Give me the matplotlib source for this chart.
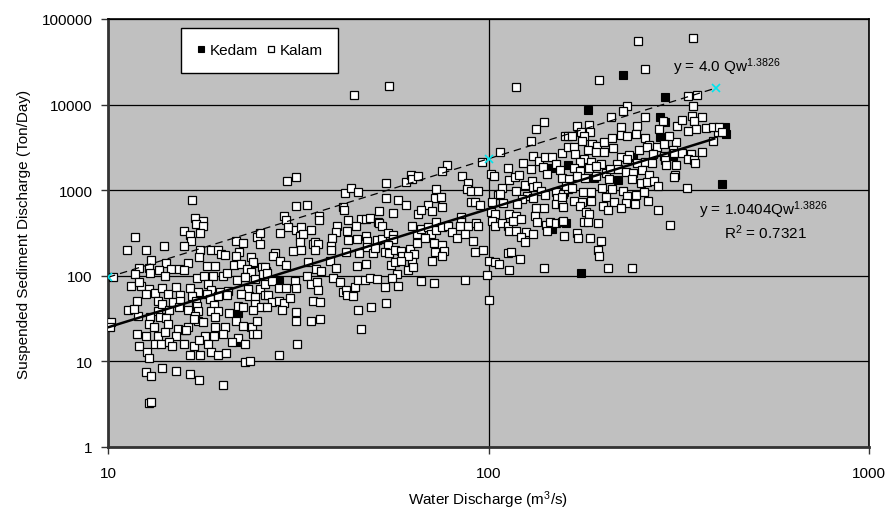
import matplotlib
matplotlib.use("Agg")
import matplotlib.pyplot as plt
from matplotlib.ticker import FixedLocator, NullLocator

plt.rcParams['font.family'] = ['Liberation Sans', 'DejaVu Sans']
plt.rcParams['mathtext.default'] = 'regular'

# Kalam station: water discharge (m3/s) and sediment discharge (ton/day)
kalam_qw = [
    16.6, 16.9, 17.8, 17.0, 17.8, 15.8, 16.4, 17.5, 11.8, 16.5,
    11.2, 12.6, 14.0, 15.8, 17.5, 18.7, 19.4, 19.8, 20.3, 21.7,
    22.6, 24.6, 25.1, 25.1, 22.1, 21.7, 23.7, 24.1, 13.0, 14.2,
    16.2, 17.3, 12.1, 12.8, 13.6, 14.6, 15.4, 15.8, 11.8, 12.9,
    14.1, 10.3, 17.1, 17.9, 18.2, 19.1, 18.9, 20.0, 20.5, 21.5,
    22.3, 23.2, 23.7, 25.4, 26.0, 21.8, 22.9, 24.3, 23.3, 25.1,
    25.8, 11.5, 12.2, 12.8, 13.3, 13.9, 15.1, 16.4, 17.2, 18.3,
    18.7, 19.7, 20.7, 12.6, 14.4, 15.5, 16.6, 18.2, 18.5, 19.4,
    20.5, 22.3, 23.5, 24.4, 25.8, 11.9, 13.5, 14.8, 15.5, 17.0,
    19.0, 22.0, 24.3, 25.2, 11.3, 12.0, 13.5, 13.9, 14.5, 15.4,
    16.2, 17.1, 17.2, 18.6, 19.4, 20.8, 22.6, 24.1, 10.2, 12.9,
    13.7, 14.2, 16.9, 17.2, 17.8, 19.1, 21.7, 22.7, 23.9, 24.6,
    12.8, 13.2, 14.4, 15.3, 15.9, 16.2, 16.8, 19.1, 20.3, 11.9,
    12.6, 13.5, 14.1, 15.1, 16.0, 18.0, 19.0, 20.1, 22.0, 24.1,
    24.7, 12.1, 12.7, 13.3, 13.8, 14.5, 14.7, 15.8, 16.8, 17.3,
    18.3, 21.2, 22.9, 12.8, 16.4, 17.4, 18.6, 19.5, 20.4, 22.9,
    23.6, 12.6, 13.0, 13.9, 15.1, 16.4, 17.3, 20.1, 12.8, 13.0,
    10.1, 11.7, 12.1,
    29.6, 31.2, 41.9, 43.4, 45.5, 53.9, 60.6, 62.4, 62.8, 65.1,
    53.9, 57.9, 60.6, 65.1, 56.2, 51.7, 31.2, 33.3, 41.4, 41.6,
    42.7, 46.1, 47.6, 48.7, 51.1, 51.4, 52.6, 29.0, 29.4, 35.8,
    35.8, 29.8, 31.2, 32.2, 34.1, 28.4, 31.9, 32.5, 39.9, 39.7,
    42.4, 44.8, 62.8, 64.7, 31.9, 34.5, 35.1, 35.7, 34.9, 38.7,
    38.5, 38.5, 42.7, 45.1, 47.6, 47.9, 50.8, 52.4, 54.3, 56.2,
    56.2, 54.3, 62.0, 64.7, 30.6, 32.2, 27.4, 27.1, 42.2, 45.8,
    47.9, 49.7, 50.2, 53.6, 54.6, 56.9, 58.9, 59.2, 63.9, 62.8,
    61.6, 28.4, 29.4, 33.5, 38.3, 39.7, 45.1, 47.6, 55.3, 56.9,
    58.9, 61.6, 63.5, 57.5, 25.8, 25.5, 26.2, 27.0, 28.1, 29.4,
    31.0, 31.2, 33.3, 35.3, 36.2, 34.1, 35.5, 35.7, 39.0, 40.6,
    41.4, 42.2, 44.5, 45.5, 47.3, 48.9, 50.8, 53.3, 55.6, 57.8,
    26.3, 27.0, 28.1, 29.0, 30.0, 26.1, 28.6, 31.2, 34.5, 36.0,
    42.4, 44.0, 53.9, 49.2, 45.3, 31.2, 34.1, 36.0, 31.4, 46.1,
    28.1, 44.2, 54.9,
    118.4, 140.3, 133.7, 129.7, 159.3, 161.3, 107.5, 96.3, 77.6, 75.7,
    85.2, 88.1, 87.6, 90.2, 94.1, 73.0, 72.5, 74.8, 69.2, 75.3,
    66.3, 71.2, 90.2, 91.9, 94.7, 101.8, 103.1, 112.2, 112.9, 117.7,
    120.6, 123.5, 129.7, 131.3, 136.1, 141.1, 147.2, 139.4, 142.9, 150.8,
    154.5, 156.4, 161.3, 108.2, 105.6, 107.5, 118.4, 125.0, 130.5, 131.3,
    134.5, 137.8, 126.5, 122.8, 131.3, 141.1, 150.0, 151.8, 157.2, 161.3,
    102.4, 109.5, 119.1, 133.5, 140.3, 150.8, 156.4, 157.3, 101.8, 104.3,
    112.9, 118.4, 132.1, 134.5, 141.9, 145.5, 150.8, 156.4, 142.9, 158.3,
    102.4, 103.7, 108.8, 112.2, 115.8, 122.0, 112.9, 118.4, 125.8, 122.0,
    125.0, 131.3, 66.6, 69.2, 70.5, 73.0, 73.0, 75.7, 78.5, 80.0,
    84.9, 84.9, 84.4, 88.1, 92.5, 94.1, 82.4, 86.5, 90.8, 67.9,
    71.7, 75.3, 72.5, 76.6, 75.3, 71.2, 91.9, 97.0, 100.6, 104.3,
    106.3, 112.9, 112.2, 114.9, 121.3, 140.3, 66.6, 72.1, 86.5, 98.8,
    100.6,
    247.5, 345, 258.3, 195.6, 335, 353, 345, 231.6, 226, 210.3,
    258.3, 184.1, 171.3, 175.5, 185.2, 223.4, 246, 281, 288, 312,
    323, 343, 365, 347, 351, 373, 400, 389, 335, 311,
    298.6, 166.2, 178.6, 176.5, 168.2, 187.5, 193.2, 201.6, 211.5, 223.4,
    231.6, 244.5, 258.3, 264.6, 277, 289.7, 305, 182.9, 192, 201.6,
    212.8, 223.4, 234.4, 249, 261.5, 271, 289.7, 307.7, 322.9, 341,
    365, 169.2, 178.6, 174.4, 186.3, 197, 218, 231.6, 246, 258.3,
    269, 291.5, 293, 311, 335, 347, 349, 168.2, 174.4, 184.1,
    191.9, 203, 209, 219, 230, 240, 253, 264.6, 309, 307.7,
    156.4, 163.2, 171.3, 179.8, 192, 207.8, 239, 251, 261.5, 272.7,
    279, 160.2, 166.2, 177.5, 186.3, 198.5, 211.5, 225, 204, 231.6,
    244.5, 256.7, 263, 243, 229.5, 214, 199.4, 186.3, 176.5, 168.2,
    156.4, 174.4, 180.9, 184.1, 205.5, 223.4, 279, 333, 300, 157.3,
    178.6, 183, 194.4, 171.3, 172.3, 185.2, 197, 194.4, 195.6, 205.5,
    239, 389, 403, 411,
]
kalam_qs = [
    770, 473, 437, 403, 382, 334, 300, 316, 284, 255,
    200, 200, 223, 223, 200, 200, 200, 180, 175, 255,
    242, 284, 316, 235, 190, 171, 166, 145, 153, 141,
    141, 166, 123, 123, 117, 120, 120, 117, 105, 108,
    99, 97, 94, 99, 130, 130, 99, 99, 108, 134,
    137, 120, 111, 127, 114, 89, 97, 92, 70, 70,
    80, 76, 76, 70, 63, 72, 74, 72, 65, 80,
    68, 65, 66, 61, 61, 60, 58, 61, 54, 58,
    60, 61, 58, 56, 60, 51, 51, 49, 51, 51,
    46, 44, 47, 43, 40, 34, 39, 47, 40, 43,
    40, 44, 39, 39, 39, 37, 43, 40, 29, 33,
    33, 32, 34, 30, 29, 33, 30, 26, 25, 30,
    27, 25, 27, 24, 23, 25, 31, 25, 25, 21,
    20, 20, 22, 20, 23, 20, 20, 21, 19, 21,
    21, 15, 13, 16, 16, 17, 15, 16, 15, 18,
    16, 17, 16, 11, 12, 12, 13, 12, 12.5, 9.8,
    10.1, 7.5, 6.7, 8.4, 7.7, 7.1, 6.1, 5.3, 3.3, 3.4,
    25, 41, 85,
    1280, 1420, 927, 1060, 953, 1220, 1250, 1510, 1350, 1460,
    811, 768, 672, 527, 541, 571, 654, 672, 636, 587,
    449, 461, 461, 473, 425, 414, 382, 499, 449, 499,
    449, 372, 343, 372, 343, 316, 291, 308, 382, 325,
    334, 382, 382, 308, 248, 235, 248, 235, 200, 277,
    223, 200, 262, 269, 291, 255, 262, 269, 316, 300,
    269, 229, 206, 242, 195, 200, 184, 171, 190, 184,
    217, 184, 211, 190, 184, 200, 195, 171, 180, 145,
    171, 149, 134, 145, 149, 123, 130, 137, 134, 145,
    149, 117, 127, 105, 127, 105, 108, 87, 72, 72,
    87, 72, 99, 120, 114, 80, 85, 68, 94, 85,
    65, 68, 74, 89, 89, 94, 92, 74, 94, 76,
    60, 49, 51, 48, 55, 43, 40, 38, 51, 49,
    60, 58, 48, 43, 40, 30, 30, 31, 16, 24,
    12, 12900, 16500,
    16100, 6260, 5190, 3760, 4300, 4300, 2790, 2130, 1970, 1680,
    1460, 1220, 1030, 979, 979, 1030, 811, 833, 672, 636,
    587, 571, 728, 728, 672, 1550, 1460, 1820, 1320, 1420,
    1510, 2080, 1770, 2510, 2190, 2440, 2440, 1870, 1550, 2020,
    1720, 2720, 3190, 1060, 879, 903, 979, 1150, 1280, 1090,
    1120, 979, 856, 789, 811, 879, 953, 811, 903, 1030,
    728, 708, 690, 619, 619, 690, 690, 636, 556, 527,
    527, 499, 499, 425, 392, 425, 414, 425, 334, 291,
    437, 382, 414, 382, 437, 461, 334, 334, 325, 284,
    248, 308, 352, 372, 308, 425, 343, 372, 382, 325,
    486, 425, 382, 382, 414, 382, 277, 308, 255, 277,
    242, 229, 190, 195, 171, 149, 190, 200, 149, 145,
    137, 117, 184, 190, 157, 123, 87, 82, 89, 102,
    52,
    55300, 60000, 26100, 19400, 12600, 12900, 9630, 9630, 8420, 7160,
    7160, 5780, 5620, 4780, 4780, 5470, 5620, 5190, 6430, 5620,
    6610, 7360, 7160, 6430, 5190, 5330, 4780, 3760, 4910, 3660,
    4300, 4300, 4300, 3760, 3190, 3470, 3280, 3660, 4070, 4410,
    4300, 4520, 4070, 3370, 3190, 3470, 2950, 2950, 2790, 2790,
    3110, 2440, 2580, 2950, 3190, 2650, 2510, 2720, 2720, 2650,
    2790, 2650, 2320, 2130, 2130, 2020, 2020, 2320, 2080, 2130,
    2080, 2250, 1970, 1970, 2320, 2250, 2080, 1820, 1680, 1820,
    1920, 1590, 1770, 1770, 1630, 1590, 1720, 1510, 1510, 1420,
    1390, 1350, 1460, 1390, 1460, 1350, 1350, 1220, 1250, 1280,
    1120, 1120, 1060, 953, 953, 1060, 1030, 979, 833, 856,
    879, 953, 748, 690, 708, 728, 654, 748, 728, 748,
    833, 654, 556, 527, 587, 619, 587, 1060, 392, 437,
    425, 425, 414, 316, 277, 277, 255, 200, 171, 123,
    123, 5470, 5470, 4780,
]

# Kedam station
kedam_qw = [24.0, 22.0, 22.0, 23.7, 28.1, 146.0, 156.4, 147.2, 225, 291.5,
            183, 282.8, 291.5, 283, 240, 305, 162, 189.8, 219, 158.3,
            160.2, 175.5, 418, 421, 411]
kedam_qs = [141, 37, 17, 25, 87, 1820, 953, 352, 22200, 12300,
            8650, 7160, 6260, 4180, 2440, 2510, 1970, 1390, 1320, 953,
            414, 108, 5470, 4530, 1180]

# rating curves (end points)
fit_qw = [10, 392]
fit_qs = [25, 4000]
env_qw = [10, 100, 396]
env_qs = [96, 2330, 15600]

x_ticks = [10, 100, 1000]
y_ticks = [1, 10, 100, 1000, 10000, 100000]

fig = plt.figure(figsize=(8.93, 5.10), dpi=100)
ax = fig.add_axes([108 / 893, 62 / 510, 761 / 893, 428 / 510])
ax.set_facecolor('#c0c0c0')
ax.set_xscale('log')
ax.set_yscale('log')
ax.set_xlim(10, 1000)
ax.set_ylim(1, 100000)

ax.grid(True, which='major', color='black', linewidth=0.9)
ax.set_axisbelow(True)

ax.plot(kedam_qw, kedam_qs, ls='none', marker='s', ms=5.2, mfc='black',
        mec='black', mew=0.8, label='Kedam', zorder=3)
ax.plot(kalam_qw, kalam_qs, ls='none', marker='s', ms=5.2, mfc='white',
        mec='black', mew=0.9, label='Kalam', zorder=3)

ax.plot(fit_qw, fit_qs, color='black', lw=1.8, zorder=4)
ax.plot(env_qw, env_qs, color='black', lw=0.9, ls=(0, (6, 4)), zorder=4)
ax.plot(env_qw, env_qs, ls='none', marker='x', ms=6, mew=1.2,
        color='#00e5ee', zorder=5)

ax.xaxis.set_major_locator(FixedLocator(x_ticks))
ax.yaxis.set_major_locator(FixedLocator(y_ticks))
ax.xaxis.set_minor_locator(NullLocator())
ax.yaxis.set_minor_locator(NullLocator())
ax.set_xticklabels([str(v) for v in x_ticks])
ax.set_yticklabels([str(v) for v in y_ticks])
ax.tick_params(axis='both', direction='out', length=5, width=1,
               labelsize=11, colors='#333333', labelcolor='black')
ax.tick_params(axis='x', pad=9)
ax.tick_params(axis='y', pad=6)

for side in ['left', 'bottom']:
    ax.spines[side].set_color('#333333')
    ax.spines[side].set_linewidth(2)
for side in ['top', 'right']:
    ax.spines[side].set_color('black')
    ax.spines[side].set_linewidth(1.2)

ax.set_xlabel('Water Discharge (m$^3$/s)', fontsize=11, labelpad=6)
ax.set_ylabel('Suspended Sediment Discharge (Ton/Day)', fontsize=11, labelpad=8)

leg = ax.legend(loc='upper left', bbox_to_anchor=(181 / 893, 1 - 29 / 510),
                bbox_transform=fig.transFigure, ncol=2, fontsize=11,
                frameon=True, fancybox=False, borderpad=1.0,
                handlelength=0.6, handletextpad=0.3, columnspacing=0.5,
                borderaxespad=0, markerscale=0.9)
leg.get_frame().set_edgecolor('black')
leg.get_frame().set_linewidth(1)
leg.get_frame().set_facecolor('white')
leg.get_frame().set_alpha(1)

fig.text(673 / 893, 1 - 72 / 510, 'y = 4.0 Qw$^{1.3826}$', fontsize=11,
         va='baseline', ha='left')
fig.text(699 / 893, 1 - 215 / 510, 'y = 1.0404Qw$^{1.3826}$', fontsize=11,
         va='baseline', ha='left')
fig.text(724 / 893, 1 - 239 / 510, 'R$^2$ = 0.7321', fontsize=11,
         va='baseline', ha='left')

fig.savefig('out.png', dpi=100)
